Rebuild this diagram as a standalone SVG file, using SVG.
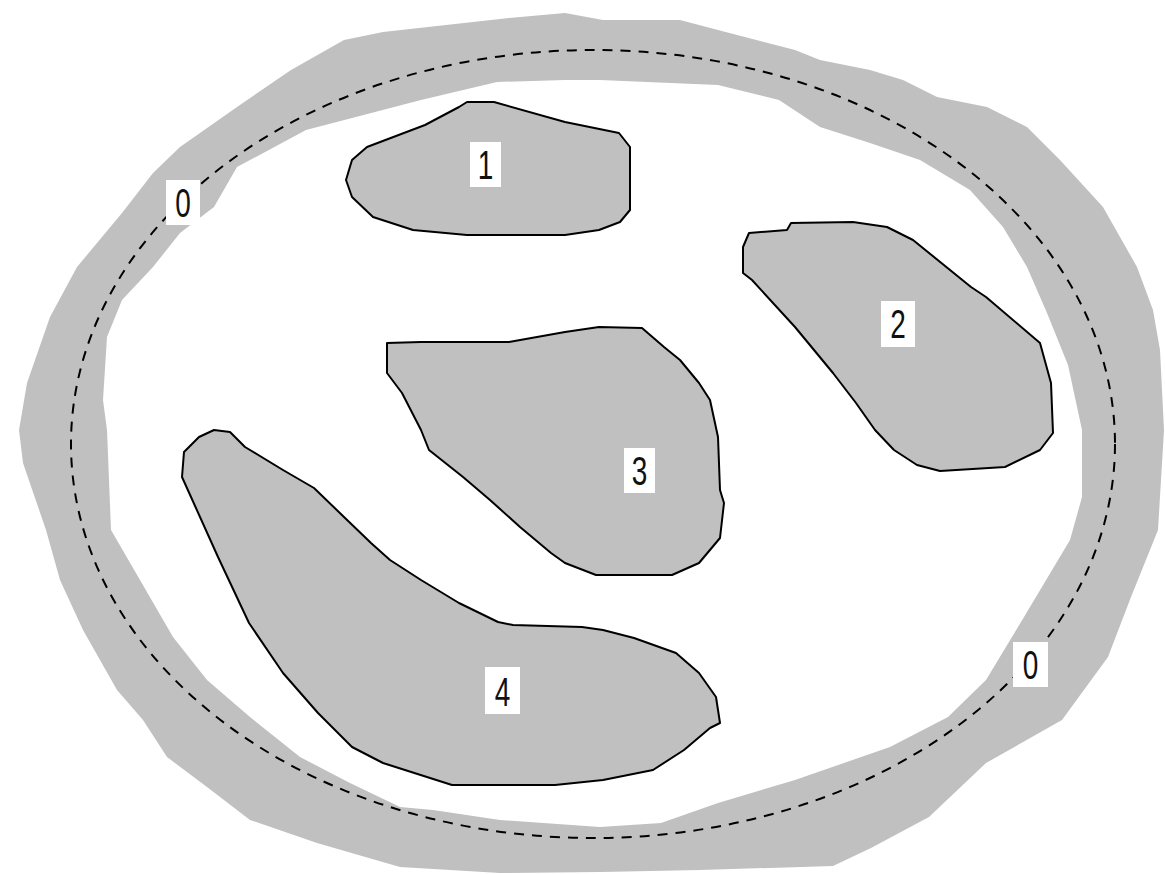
<svg xmlns="http://www.w3.org/2000/svg" width="1165" height="874" viewBox="0 0 1165 874">
<style>
.ring{fill:#c0c0c0;fill-rule:evenodd;stroke:none}
.blob{fill:#c0c0c0;stroke:#000;stroke-width:2;stroke-linejoin:round}
.dash{fill:none;stroke:#000;stroke-width:2;stroke-dasharray:10 8}
.lb{fill:#fff}
.tx{font-family:"Liberation Sans",Arial,sans-serif;font-size:40px;fill:#111;text-anchor:middle}
</style>
<rect width="1165" height="874" fill="#fff"/>
<g id="ring">
<path class="ring" d="M509,18 L565,13 L603,20 L680,20 L718,30 L795,50 L820,60 L870,70 L903,80 L937,97 L987,107 L1027,127 L1060,160 L1103,207 L1137,267 L1153,310 L1160,350 L1164,430 L1158,530 L1131,597 L1108,657 L1062,720 L986,763 L929,817 L871,848 L833,866 L700,870 L600,872 L500,873 L400,867 L317,843 L250,820 L207,787 L167,757 L143,720 L117,690 L83,630 L60,580 L46,530 L23,463 L19,430 L27,383 L50,317 L77,267 L122,213 L153,173 L180,147 L237,107 L291,70 L344,40 L383,32 Z
M497,82 L565,80 L600,80 L718,85 L779,100 L820,127 L870,143 L920,160 L970,190 L1003,227 L1027,267 L1047,313 L1068,365 L1082,430 L1082,497 L1070,540 L1024,617 L986,680 L948,717 L890,747 L795,780 L718,803 L661,823 L600,827 L500,820 L433,810 L400,807 L350,783 L300,757 L250,717 L207,680 L173,637 L140,580 L111,530 L107,430 L103,400 L107,337 L122,300 L153,267 L180,233 L214,207 L237,167 L306,130 L421,100 Z"/>
</g>
<g id="connectors">
<ellipse class="dash" cx="593" cy="444" rx="522" ry="394"/>
</g>
<g id="blob1">
<path class="blob" d="M459,107 L467,102 L494,102 L565,122 L619,133 L630,147 L630,210 L620,222 L599,230 L565,235 L467,235 L413,230 L373,217 L352,197 L346,180 L352,160 L367,147 L425,125 Z"/>
<rect class="lb" x="470" y="142" width="31" height="45"/>
<text class="tx" transform="translate(485.5,179) scale(0.7,1)">1</text>
</g>
<g id="blob2">
<path class="blob" d="M749,233 L787,230 L791,223 L853,222 L887,227 L913,240 L971,287 L986,297 L1040,343 L1051,383 L1053,433 L1040,450 L1005,467 L940,471 L917,465 L894,450 L875,430 L856,403 L833,373 L795,327 L752,280 L743,273 L743,247 Z"/>
<rect class="lb" x="881" y="301" width="34" height="46"/>
<text class="tx" transform="translate(898,338) scale(0.7,1)">2</text>
</g>
<g id="blob3">
<path class="blob" d="M387,343 L421,342 L509,342 L565,332 L599,327 L642,328 L664,347 L680,360 L699,383 L710,400 L718,437 L720,490 L724,503 L720,538 L699,563 L672,575 L596,575 L565,563 L551,553 L520,527 L490,500 L463,477 L429,450 L421,430 L402,393 L387,373 Z"/>
<rect class="lb" x="624" y="448" width="31" height="45"/>
<text class="tx" transform="translate(639.5,485) scale(0.7,1)">3</text>
</g>
<g id="blob4">
<path class="blob" d="M214,430 L230,432 L245,447 L283,470 L314,488 L344,517 L371,543 L390,560 L421,580 L459,603 L498,622 L513,625 L582,627 L603,630 L634,638 L676,653 L699,673 L716,697 L720,723 L710,728 L684,750 L653,770 L603,780 L555,785 L452,785 L383,763 L352,747 L318,713 L283,673 L249,623 L218,557 L191,497 L182,477 L184,452 L199,437 Z"/>
<rect class="lb" x="485" y="667" width="35" height="47"/>
<text class="tx" transform="translate(502.5,706) scale(0.7,1)">4</text>
</g>
<g id="label0a">
<rect class="lb" x="166" y="180" width="34" height="45"/>
<text class="tx" transform="translate(183,217) scale(0.7,1)">0</text>
</g>
<g id="label0b">
<rect class="lb" x="1013" y="642" width="35" height="45"/>
<text class="tx" transform="translate(1030.5,679) scale(0.7,1)">0</text>
</g>
</svg>
